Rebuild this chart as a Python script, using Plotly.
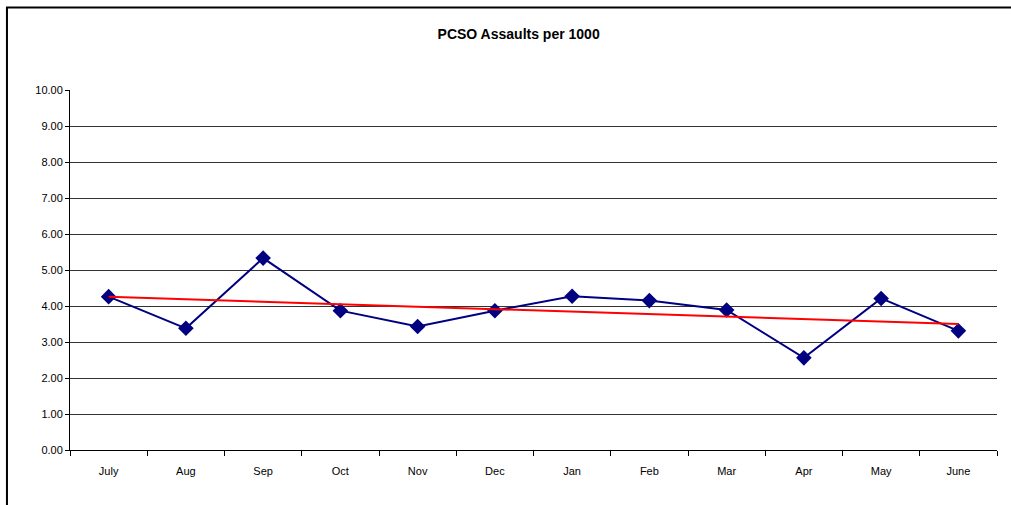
import numpy as np
import plotly.graph_objects as go

months = ["July", "Aug", "Sep", "Oct", "Nov", "Dec", "Jan", "Feb", "Mar", "Apr", "May", "June"]
assaults = [4.26, 3.38, 5.33, 3.87, 3.43, 3.87, 4.27, 4.15, 3.89, 2.56, 4.21, 3.31]
y_ticks = [0, 1, 2, 3, 4, 5, 6, 7, 8, 9, 10]
grid_ticks = [1, 2, 3, 4, 5, 6, 7, 8, 9]

idx = np.arange(len(months))
slope, intercept = np.polyfit(idx, assaults, 1)
trend = slope * idx + intercept

font_family = "Liberation Sans, Arial, sans-serif"

fig = go.Figure()
# invisible trace to activate the grid overlay axis (drawn first, below data)
fig.add_trace(go.Scatter(x=months, y=assaults, yaxis="y2", mode="none",
                         showlegend=False, hoverinfo="skip"))
fig.add_trace(go.Scatter(
    x=months, y=assaults, mode="lines+markers",
    line=dict(color="#000080", width=2),
    marker=dict(symbol="diamond", size=12, color="#000080"),
    showlegend=False, hoverinfo="skip",
))
fig.add_trace(go.Scatter(
    x=months, y=trend, mode="lines",
    line=dict(color="#ff0000", width=2),
    showlegend=False, hoverinfo="skip",
))

fig.update_layout(
    width=1011, height=505,
    margin=dict(l=70, r=14, t=90, b=55, autoexpand=False),
    paper_bgcolor="white", plot_bgcolor="white",
    font=dict(family=font_family, size=11, color="black"),
    title=dict(text="<b>PCSO Assaults per 1000</b>", x=0.513, xref="container",
               xanchor="center", y=0.933, yref="container", yanchor="middle",
               font=dict(family=font_family, size=14, color="black")),
    xaxis=dict(type="category", range=[-0.5, 11.5], tickson="boundaries",
               ticks="outside", ticklen=5, ticklabelstandoff=11,
               tickcolor="black", showline=True, linecolor="black", linewidth=1,
               showgrid=False, zeroline=False, fixedrange=True,
               tickfont=dict(size=11)),
    yaxis=dict(range=[0, 10], tickvals=y_ticks,
               ticktext=[f"{v:.2f}" for v in y_ticks],
               ticks="outside", ticklen=4, tickcolor="black",
               showline=True, linecolor="black", linewidth=1,
               showgrid=False, zeroline=False, tickfont=dict(size=11)),
    yaxis2=dict(range=[0, 10], overlaying="y", tickvals=grid_ticks,
                showticklabels=False, showgrid=True, gridcolor="#333333",
                gridwidth=1, zeroline=False, showline=False, ticks=""),
)
fig.add_shape(type="rect", xref="paper", yref="paper",
              x0=-0.068, x1=1.1, y0=-0.3, y1=1.229,
              line=dict(color="black", width=2), fillcolor="rgba(0,0,0,0)",
              layer="below")

fig.write_html("out.html", config={"displayModeBar": False},
               post_script="document.body.style.margin='0';document.body.style.overflow='hidden';")
